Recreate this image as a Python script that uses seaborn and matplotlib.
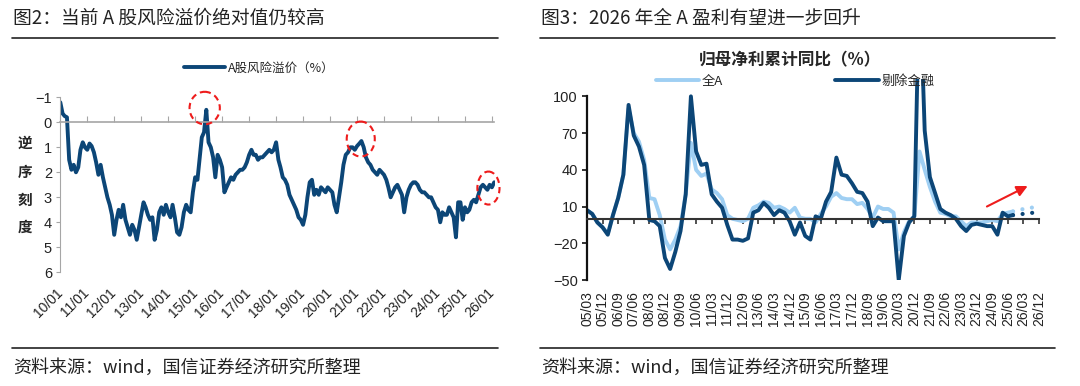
import matplotlib
matplotlib.use("Agg")
import matplotlib.pyplot as plt
import matplotlib.dates as mdates
from matplotlib.patches import Ellipse
from matplotlib.lines import Line2D
import pandas as pd
import seaborn as sns

# --------------------------------------------------------------------
# DATA
# --------------------------------------------------------------------
# left: A-share equity risk premium (%), monthly, 2010/01 - 2026/02
erp_2010 = [-0.8, -0.35, -0.25, -0.2, 1.5, 1.9, 1.7, 2.0, 1.8, 1.1, 0.8, 1.0]
erp_2011 = [1.1, 0.85, 0.95, 1.2, 1.6, 2.1, 1.7, 2.2, 2.6, 3.0, 3.3, 3.7]
erp_2012 = [4.5, 3.9, 3.5, 3.8, 3.3, 3.9, 4.2, 4.5, 4.1, 4.3, 4.7, 4.2]
erp_2013 = [3.7, 3.2, 3.4, 3.7, 3.9, 3.8, 4.7, 4.3, 3.6, 3.4, 3.7, 3.3]
erp_2014 = [3.6, 3.8, 3.3, 3.8, 4.4, 4.5, 4.2, 3.6, 3.3, 3.5, 3.6, 2.8]
erp_2015 = [2.2, 2.3, 1.5, 0.6, 0.4, -0.5, 0.8, 1.0, 1.4, 2.2, 1.3, 1.5]
erp_2016 = [1.8, 2.8, 2.6, 2.4, 2.2, 2.3, 2.1, 2.0, 1.9, 1.9, 1.8, 1.6]
erp_2017 = [1.3, 1.1, 1.3, 1.3, 1.5, 1.4, 1.4, 1.3, 1.2, 1.1, 1.2, 1.1]
erp_2018 = [0.8, 1.5, 1.8, 2.2, 2.3, 2.5, 2.9, 3.1, 3.3, 3.5, 3.8, 3.9]
erp_2019 = [4.1, 3.7, 3.0, 2.4, 2.3, 2.9, 2.7, 2.9, 2.6, 2.7, 2.8, 2.6]
erp_2020 = [2.7, 2.8, 3.3, 3.6, 3.0, 2.4, 1.7, 1.3, 1.2, 1.0, 1.0, 1.1]
erp_2021 = [0.95, 0.85, 0.75, 1.0, 1.4, 1.6, 1.7, 1.9, 2.0, 2.1, 1.9, 2.0]
erp_2022 = [2.1, 2.3, 2.6, 3.0, 2.8, 2.6, 2.5, 2.7, 2.9, 3.6, 3.0, 2.7]
erp_2023 = [2.5, 2.4, 2.4, 2.5, 2.7, 2.8, 2.8, 2.9, 3.0, 3.0, 3.2, 3.4]
erp_2024 = [3.5, 4.0, 3.6, 3.7, 3.7, 3.4, 3.6, 3.8, 4.6, 3.2, 3.2, 3.9]
erp_2025 = [3.4, 3.6, 3.5, 3.2, 3.1, 3.2, 2.9, 2.6, 2.5, 2.6, 2.7, 2.5]
erp_2026 = [2.6, 2.4]
erp_ticks = ["10/01", "11/01", "12/01", "13/01", "14/01", "15/01", "16/01", "17/01",
             "18/01", "19/01", "20/01", "21/01", "22/01", "23/01", "24/01", "25/01", "26/01"]

# right: cumulative YoY of net profit attributable to parent (%), quarterly 05/03 - 25/09
profit_all = [7, 4, -3, -7, -12, 3, 17, 36, 90, 70, 63, 48, 17, 16, 3, -17, -25, -17, -6, 20,
              62, 40, 35, 37, 24, 21, 16, 3, 0, -1, -2, 0, 9, 11, 14, 13, 9, 10, 8, 5,
              9, 1, 0, 0, -3, 4, 10, 18, 21, 17, 16, 16, 12, 13, 8, 1, 10, 8, 8, 5,
              -25, -11, -2, 2, 55, 40, 26, 14, 5, 4, 2, 2, -2, -6, -3, -3, -3, -2, -1, -2,
              4, 5, 6]
profit_exfin = [7, 4, -3, -7, -13, 3, 17, 36, 93, 68, 59, 44, -1, -2, -6, -32, -41, -27, -10, 20,
                100, 55, 44, 45, 20, 14, 9, -5, -17, -17, -18, -16, 5, 7, 13, 9, 3, 7, 5, -2,
                -13, -3, -14, -17, 2, 0, 14, 22, 50, 36, 35, 29, 22, 21, 14, -6, 1, -2, -2, -2,
                -50, -14, -3, 2, 200, 72, 34, 21, 8, 5, 3, 0, -6, -10, -5, -4, -5, -6, -6, -13,
                5, 2, 3]
# forecast 25/09 - 26/12
forecast_all = [6, 7, 8, 8.5, 9.5, 10]
forecast_exfin = [3, 3.5, 4, 4.5, 5, 5.5]
quarters = pd.period_range("2005Q1", "2026Q4", freq="Q")
quarter_labels = [f"{p.year % 100:02d}/{p.quarter * 3:02d}" for p in quarters]

NAVY = "#0c4677"
LIGHT = "#9fcff3"
GRAY = "#a6a6a6"
CJK = ["Noto Sans CJK SC", "DejaVu Sans"]

sns.set_style("white")
plt.rcParams["font.family"] = ["Liberation Sans", "Noto Sans CJK SC", "DejaVu Sans"]
plt.rcParams["axes.unicode_minus"] = True

W, H = 1080, 386
fig = plt.figure(figsize=(10.8, 3.86), dpi=100)


def fx(px):
    return px / W


def fy(py):
    return 1 - py / H


# --------------------------------------------------------------------
# LEFT PANEL
# --------------------------------------------------------------------
ax1 = fig.add_axes([fx(60.3), fy(272.3), fx(494.5 - 60.3), (272.3 - 97.3) / H])
erp_values = (erp_2010 + erp_2011 + erp_2012 + erp_2013 + erp_2014 + erp_2015 + erp_2016
              + erp_2017 + erp_2018 + erp_2019 + erp_2020 + erp_2021 + erp_2022 + erp_2023
              + erp_2024 + erp_2025 + erp_2026)
erp_dates = pd.date_range("2010-01-01", periods=len(erp_values), freq="MS")
sns.lineplot(x=erp_dates, y=erp_values, ax=ax1, color=NAVY, lw=2.8, label="A股风险溢价（%）")

ax1.set_ylim(6, -1)
ax1.set_xlim(pd.Timestamp("2010-01-01"), pd.Timestamp("2026-02-05"))
ax1.set_yticks(range(-1, 7))
ax1.tick_params(axis="y", direction="out", length=3, color=GRAY, labelsize=10.5,
                labelcolor="#222222", pad=3, left=True)
for s in ["top", "right"]:
    ax1.spines[s].set_visible(False)
ax1.spines["left"].set_color(GRAY)
ax1.spines["bottom"].set_color(GRAY)
ax1.spines["bottom"].set_linewidth(1.2)
ax1.spines["bottom"].set_position(("data", 0))
tick_pos = mdates.date2num(pd.date_range("2010-01-01", "2026-01-01", freq="YS"))
ax1.set_xticks(tick_pos)
ax1.tick_params(axis="x", direction="in", length=4, color=GRAY, labelbottom=False, bottom=True)
ax1.set_xlabel("")
ax1.set_ylabel("")

sec1 = ax1.secondary_xaxis(0)
sec1.set_xticks(tick_pos)
sec1.set_xticklabels(erp_ticks, rotation=45, ha="right", va="center", rotation_mode="anchor",
                     fontsize=10, color="#222222")
sec1.tick_params(length=0, pad=13)
sec1.spines["bottom"].set_visible(False)

for cx, cy, w, h in [("2015-05-10", -0.57, 410, 1.3),
                     ("2021-02-20", 0.67, 380, 1.4),
                     ("2025-11-15", 2.63, 300, 1.32)]:
    ax1.add_patch(Ellipse((mdates.date2num(pd.Timestamp(cx)), cy), w, h, fill=False,
                          ec="#ee1c1c", lw=1.5, ls=(0, (3, 2)), zorder=5, clip_on=False))

ax1.legend(loc="center", bbox_to_anchor=(fx(259), fy(68)), bbox_transform=fig.transFigure,
           frameon=False, handlelength=3.3, handletextpad=0.2, prop={"family": CJK, "size": 9})

for ch, py in zip("逆序刻度", [143, 172, 200, 227]):
    fig.text(fx(25), fy(py), ch, ha="center", va="center", fontsize=10.5, fontweight="bold",
             family=CJK)

# --------------------------------------------------------------------
# RIGHT PANEL
# --------------------------------------------------------------------
ax2 = fig.add_axes([fx(587), fy(280), fx(452), (280 - 79.2) / H])
idx_actual = list(range(len(profit_all)))
idx_fc = list(range(len(profit_all) - 1, len(profit_all) - 1 + len(forecast_all)))

sns.lineplot(x=idx_actual, y=profit_all, ax=ax2, color=LIGHT, lw=2.8)
sns.lineplot(x=idx_fc, y=forecast_all, ax=ax2, color=LIGHT, lw=3,
             linestyle=(0, (0.01, 2.3)), dash_capstyle="round")
sns.lineplot(x=idx_actual, y=profit_exfin, ax=ax2, color=NAVY, lw=2.8)
sns.lineplot(x=idx_fc, y=forecast_exfin, ax=ax2, color=NAVY, lw=3,
             linestyle=(0, (0.01, 2.3)), dash_capstyle="round")

ax2.set_xlim(0, len(quarters) - 1)
ax2.set_ylim(-50, 114)
ax2.set_yticks([100, 70, 40, 10, -20, -50])
ax2.tick_params(axis="y", direction="out", length=3.5, width=1.2, color="#111111",
                labelsize=10.5, labelcolor="#222222", pad=3, left=True)
for s in ["top", "right"]:
    ax2.spines[s].set_visible(False)
ax2.spines["left"].set_color("#111111")
ax2.spines["left"].set_linewidth(1.6)
ax2.spines["left"].set_bounds(-50, 100)
ax2.spines["bottom"].set_position(("data", 0))
ax2.spines["bottom"].set_color("#333333")
ax2.spines["bottom"].set_linewidth(1.5)
q_ticks = list(range(0, len(quarters), 3))
ax2.set_xticks(q_ticks)
ax2.tick_params(axis="x", direction="out", length=3.5, width=1.2, color="#333333",
                labelbottom=False, bottom=True)
ax2.set_xlabel("")
ax2.set_ylabel("")

sec2 = ax2.secondary_xaxis(0)
sec2.set_xticks(q_ticks)
sec2.set_xticklabels([quarter_labels[i] for i in q_ticks], rotation=90, ha="center", va="top",
                     fontsize=10, color="#222222")
sec2.tick_params(length=0, pad=8)
sec2.spines["bottom"].set_visible(False)

ax2.annotate("", xy=(85.3, 27.8), xytext=(76.5, 9),
             arrowprops=dict(arrowstyle="-|>", color="#ee1c1c", lw=1.5, mutation_scale=16))

handles = [Line2D([], [], color=LIGHT, lw=2.8), Line2D([], [], color=NAVY, lw=2.8)]
ax2.legend(handles, ["全A", "剔除金融"], loc="center", bbox_to_anchor=(fx(795), fy(81)),
           bbox_transform=fig.transFigure, ncol=2, frameon=False, handlelength=3.3,
           handletextpad=0.2, columnspacing=8.5, prop={"family": CJK, "size": 9.5})

fig.text(fx(790), fy(60), "归母净利累计同比（%）", ha="center", va="center", fontsize=12,
         fontweight="bold", family=CJK)

# --------------------------------------------------------------------
# TITLES, RULES, FOOTERS
# --------------------------------------------------------------------
fig.text(fx(13), fy(18), "图2：当前 A 股风险溢价绝对值仍较高", ha="left", va="center",
         fontsize=13.5, family=CJK, color="#222222")
fig.text(fx(541), fy(18), "图3：2026 年全 A 盈利有望进一步回升", ha="left", va="center",
         fontsize=13.5, family=CJK, color="#222222")
for x0, x1 in [(12, 498), (540, 1055)]:
    for py in [38, 348]:
        fig.add_artist(Line2D([fx(x0), fx(x1)], [fy(py), fy(py)], color="#222222", lw=1.2))
for x0 in [13, 541]:
    fig.text(fx(x0), fy(368), "资料来源：wind，国信证券经济研究所整理", ha="left", va="center",
             fontsize=13, family=CJK, color="#222222")

fig.savefig("out.png", dpi=100)
